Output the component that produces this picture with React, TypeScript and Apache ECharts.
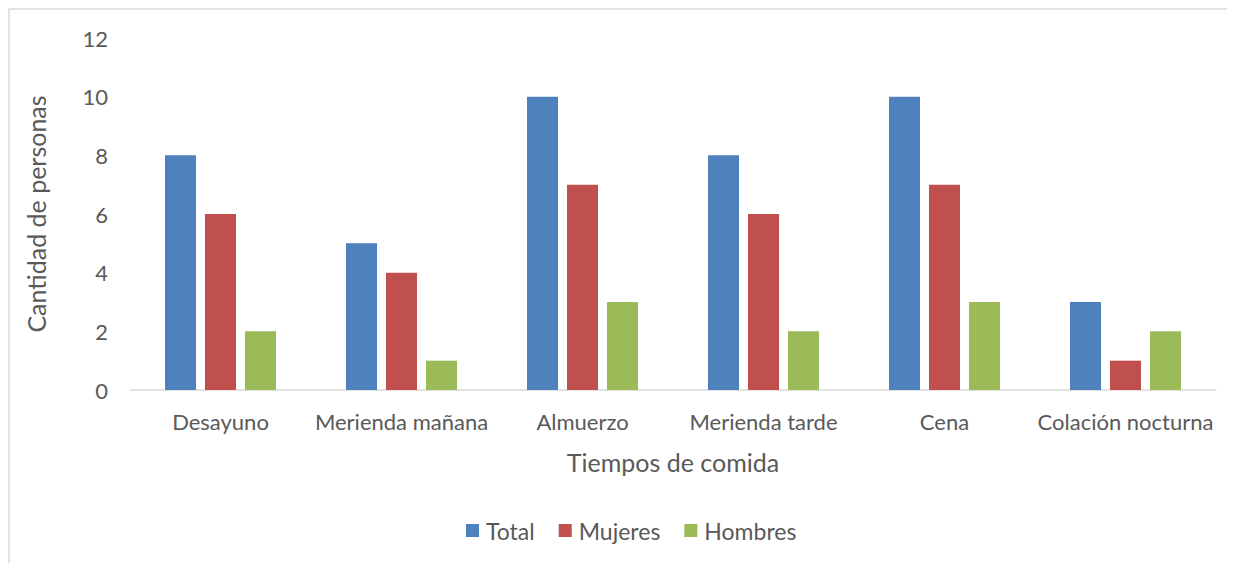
import React, { useEffect, useRef } from "react";
import * as echarts from "echarts";

const categories = ["Desayuno", "Merienda mañana", "Almuerzo", "Merienda tarde", "Cena", "Colación nocturna"];
const totalValues = [8, 5, 10, 8, 10, 3];
const mujeresValues = [6, 4, 7, 6, 7, 1];
const hombresValues = [2, 1, 3, 2, 3, 2];
const seriesNames = ["Total", "Mujeres", "Hombres"];
const colors = ["#4f81bd", "#c0504d", "#9bbb59"];

const FONT = "Lato, 'Open Sans', sans-serif";
const TEXT = "#595959";

export default function App() {
  const ref = useRef<HTMLDivElement>(null);
  useEffect(() => {
    if (!ref.current) return;
    const chart = echarts.init(ref.current, null, { renderer: "svg" });
    const data = [totalValues, mujeresValues, hombresValues];
    chart.setOption({
      animation: false,
      textStyle: { fontFamily: FONT, color: TEXT },
      graphic: [
        {
          type: "rect",
          shape: { x: 1, y: 1, width: 1300, height: 700 },
          style: { fill: "none", stroke: "#d9d9d9", lineWidth: 1.5 },
          silent: true,
        },
      ],
      grid: { left: 122, right: 19, top: 30, bottom: 173 },
      legend: {
        left: 458,
        top: 511,
        padding: 0,
        itemWidth: 13,
        itemHeight: 13,
        itemGap: 24,
        icon: "rect",
        textStyle: { fontFamily: FONT, fontSize: 23, color: TEXT, padding: [0, 0, 0, 2] },
        data: seriesNames,
      },
      xAxis: {
        type: "category",
        data: categories,
        name: "Tiempos de comida",
        nameLocation: "middle",
        nameGap: 59,
        nameTextStyle: { fontFamily: FONT, fontSize: 25, color: TEXT },
        axisLine: { lineStyle: { color: "#d9d9d9", width: 1.5 } },
        axisTick: { show: false },
        axisLabel: { fontFamily: FONT, fontSize: 22, color: TEXT, margin: 20, interval: 0 },
      },
      yAxis: {
        type: "value",
        min: 0,
        max: 12,
        interval: 2,
        name: "Cantidad de personas",
        nameLocation: "middle",
        nameGap: 82,
        nameTextStyle: { fontFamily: FONT, fontSize: 25, color: TEXT },
        axisLine: { show: false },
        axisTick: { show: false },
        splitLine: { show: false },
        axisLabel: { fontFamily: FONT, fontSize: 22, color: TEXT, margin: 22 },
      },
      series: seriesNames.map((name, i) => ({
        name,
        type: "bar",
        data: data[i],
        barWidth: 31,
        barGap: "29%",
        itemStyle: { color: colors[i] },
      })),
    });
    return () => chart.dispose();
  }, []);
  return <div ref={ref} style={{ width: 1227, height: 555 }} />;
}
